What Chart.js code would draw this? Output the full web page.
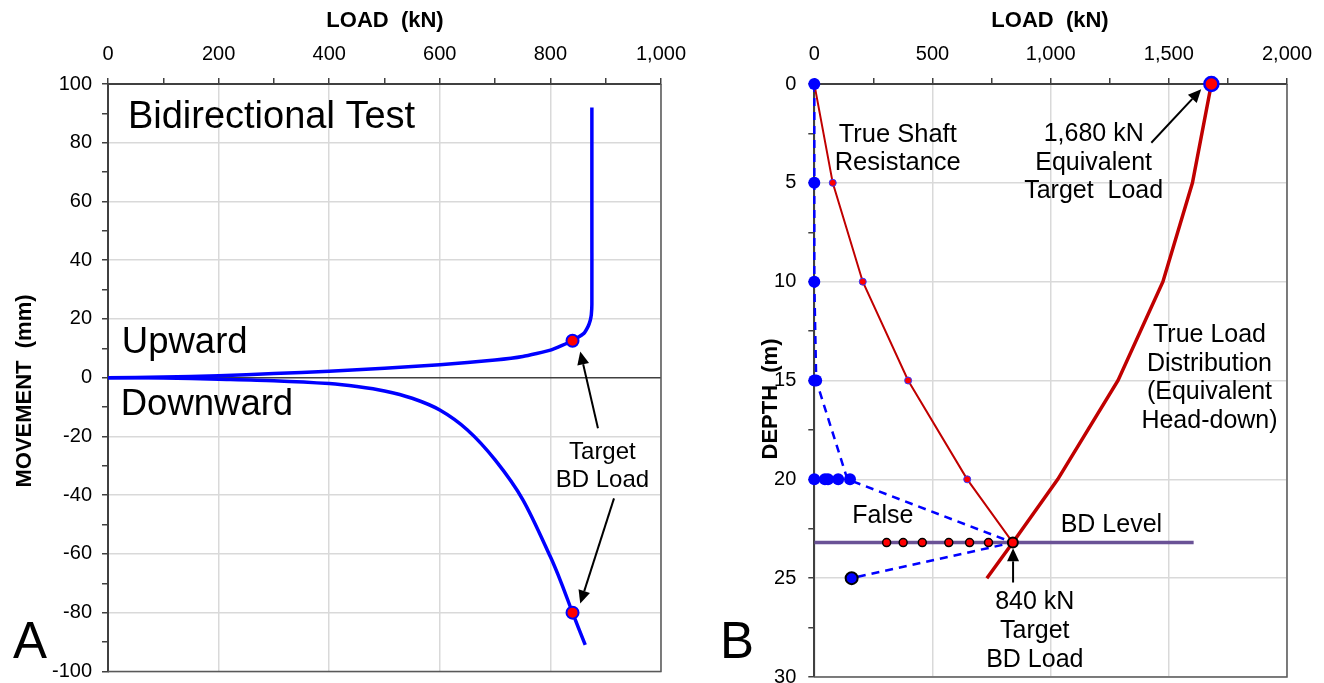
<!DOCTYPE html>
<html lang="en">
<head>
<meta charset="UTF-8">
<title>Bidirectional test - load movement and load distribution</title>
<script src="https://cdn.jsdelivr.net/npm/chart.js@4/dist/chart.umd.min.js"></script>
<style>
  body { margin: 0; background: #fff; width: 1324px; height: 683px; position: relative; overflow: hidden; font-family: "Liberation Sans", Arial, sans-serif; }
  canvas { position: absolute; top: 0; }
  #chartA { left: 0; }
  #chartB { left: 700px; }
  .lbl { position: absolute; white-space: pre; color: #000; }
  .ttl { font-weight: bold; font-size: 22px; line-height: 24px; height: 24px; width: 240px; text-align: center; }
  .rot { transform: rotate(-90deg); }
  .letter { font-size: 51px; line-height: 51px; }
</style>
</head>
<body>
<canvas id="chartA" width="700" height="683"></canvas>
<canvas id="chartB" width="624" height="683"></canvas>
<div class="lbl ttl" style="left:265px;top:8px">LOAD  (kN)</div>
<div class="lbl ttl" style="left:930px;top:8px">LOAD  (kN)</div>
<div class="lbl ttl rot" style="left:-96px;top:379px">MOVEMENT  (mm)</div>
<div class="lbl ttl rot" style="left:650px;top:387px">DEPTH  (m)</div>
<div class="lbl letter" style="left:13px;top:615px">A</div>
<div class="lbl letter" style="left:720px;top:615px">B</div>
<script>
// ---- panel A: bidirectional test, load vs movement ----
const upLoad = [0, 100, 200, 300, 400, 500, 600, 700, 750, 800, 840, 860, 868, 872, 874, 875, 875, 875];
const upMove = [0, 0.2, 0.7, 1.4, 2.2, 3.2, 4.4, 6.0, 7.2, 9.4, 12.6, 15.0, 17.4, 19.5, 21.5, 25, 60, 92];
const downLoad = [0, 100, 200, 300, 400, 450, 500, 550, 600, 650, 700, 750, 800, 820, 840, 863];
const downMove = [0, -0.1, -0.5, -1.0, -2.0, -3.0, -4.5, -7.0, -11, -17.8, -28, -41.5, -61, -70, -80, -91];
const targetLoadA = [840, 840];
const targetMoveA = [12.6, -80];

// ---- panel B: load distribution vs depth ----
const trueDepth = [0, 5, 10, 15, 20, 23.2, 25];
const trueLoad = [1680, 1600, 1475, 1285, 1030, 840, 730];
const shaftDepth = [0, 5, 10, 15, 20, 23.2];
const shaftLoad = [0, 78, 205, 397, 647, 840];
const falseDepth = [0, 5, 10, 15, 20, 23.2, 25];
const falseLoad = [0, 0, 0, 8, 140, 840, 158];
const blueDotDepth = [0, 5, 10, 15, 15, 20, 20, 20, 20, 20];
const blueDotLoad = [0, 0, 0, 0, 8, 0, 45, 58, 101, 151];
const toeDepth = [25];
const toeLoad = [158];
const bdDepth = 23.2;
const bdLineLoad = [0, 1605];
const bdDotLoad = [306, 376, 457, 569, 657, 737];
const targetLoadB = [840];
const headLoad = [1680];

// tick label sets
const xTicksA = [0, 200, 400, 600, 800, 1000];
const yTicksA = [-100, -80, -60, -40, -20, 0, 20, 40, 60, 80, 100];
const xTicksB = [0, 500, 1000, 1500, 2000];
const yTicksB = [0, 5, 10, 15, 20, 25, 30];

const notesA = [
  { text: 'Bidirectional Test', x: 36, y: 85.1, size: 38, align: 'left' },
  { text: 'Upward', x: 25, y: 8.4, size: 36.5, align: 'left' },
  { text: 'Downward', x: 23, y: -12.7, size: 36.5, align: 'left' },
  { text: 'Target', x: 894, y: -27.7, size: 24 },
  { text: 'BD Load', x: 894, y: -37.1, size: 24 }
];
const arrowsA = [
  { x1: 886, y1: -17.2, x2: 854, y2: 8.9 },
  { x1: 915, y1: -41.1, x2: 854, y2: -76.9 }
];
const notesB = [
  { text: 'True Shaft', x: 353, y: 2.92, size: 25.5 },
  { text: 'Resistance', x: 353, y: 4.35, size: 25.5 },
  { text: '1,680 kN', x: 1182, y: 2.88, size: 25 },
  { text: 'Equivalent', x: 1182, y: 4.35, size: 25 },
  { text: 'Target  Load', x: 1182, y: 5.78, size: 25 },
  { text: 'True Load', x: 1672, y: 13.03, size: 25 },
  { text: 'Distribution', x: 1672, y: 14.5, size: 25 },
  { text: '(Equivalent', x: 1672, y: 15.95, size: 25 },
  { text: 'Head-down)', x: 1672, y: 17.4, size: 25 },
  { text: 'BD Level', x: 1257, y: 22.68, size: 25 },
  { text: 'False', x: 290, y: 22.22, size: 25 },
  { text: '840 kN', x: 933, y: 26.57, size: 25 },
  { text: 'Target', x: 933, y: 28.04, size: 25 },
  { text: 'BD Load', x: 933, y: 29.47, size: 25 }
];
const arrowsB = [
  { x1: 1426, y1: 2.97, x2: 1637, y2: 0.27 },
  { x1: 841, y1: 25.22, x2: 841, y2: 23.49 }
];

const FONT = '"Liberation Sans", Arial, sans-serif';
Chart.defaults.font.family = FONT;
Chart.defaults.color = '#000';

const zip = (xs, ys) => xs.map((v, i) => ({ x: v, y: ys[i] }));
const flat = (xs, y) => xs.map((v) => ({ x: v, y: y }));
const near = (v, list) => list.some((t) => Math.abs(t - v) < 1e-6);

function fixBox(size) {
  return (scale) => {
    if (scale.isHorizontal()) scale.height = size;
    else scale.width = size;
    scale.paddingLeft = scale.paddingRight = scale.paddingTop = scale.paddingBottom = 0;
  };
}

function makeAxis(opts) {
  return {
    type: 'linear',
    position: opts.position,
    min: opts.min,
    max: opts.max,
    reverse: !!opts.reverse,
    afterFit: fixBox(opts.box),
    border: { display: true, color: '#404040', width: 2 },
    grid: {
      lineWidth: 1.5,
      color: (c) => {
        if (!c.tick) return 'rgba(0,0,0,0)';
        if (opts.zeroDark && c.tick.value === 0) return '#404040';
        return near(c.tick.value, opts.labels) ? '#d9d9d9' : 'rgba(0,0,0,0)';
      },
      tickColor: '#404040',
      tickLength: 6
    },
    ticks: {
      stepSize: opts.step,
      autoSkip: false,
      maxRotation: 0,
      padding: opts.pad,
      font: { size: 20 },
      callback: (v) => (near(v, opts.labels) ? v.toLocaleString('en-US') : '')
    }
  };
}

function notesPlugin(texts, arrows) {
  return {
    id: 'notes',
    beforeDatasetsDraw(chart) {
      const { ctx, chartArea: a } = chart;
      ctx.save();
      ctx.strokeStyle = '#595959';
      ctx.lineWidth = 1.5;
      ctx.beginPath();
      ctx.moveTo(a.right, a.top);
      ctx.lineTo(a.right, a.bottom);
      ctx.lineTo(a.left, a.bottom);
      ctx.stroke();
      ctx.restore();
    },
    afterDatasetsDraw(chart) {
      const { ctx, scales: { x, y } } = chart;
      ctx.save();
      ctx.fillStyle = '#000';
      ctx.textBaseline = 'alphabetic';
      texts.forEach((t) => {
        ctx.font = t.size + 'px ' + FONT;
        ctx.textAlign = t.align || 'center';
        ctx.fillText(t.text, x.getPixelForValue(t.x), y.getPixelForValue(t.y));
      });
      ctx.strokeStyle = '#000';
      ctx.lineWidth = 2;
      arrows.forEach((r) => {
        const x1 = x.getPixelForValue(r.x1), y1 = y.getPixelForValue(r.y1);
        const x2 = x.getPixelForValue(r.x2), y2 = y.getPixelForValue(r.y2);
        const ang = Math.atan2(y2 - y1, x2 - x1);
        const hl = 13, hw = 6;
        const bx = x2 - hl * Math.cos(ang), by = y2 - hl * Math.sin(ang);
        ctx.beginPath();
        ctx.moveTo(x1, y1);
        ctx.lineTo(bx, by);
        ctx.stroke();
        ctx.beginPath();
        ctx.moveTo(x2, y2);
        ctx.lineTo(bx + hw * Math.sin(ang), by - hw * Math.cos(ang));
        ctx.lineTo(bx - hw * Math.sin(ang), by + hw * Math.cos(ang));
        ctx.closePath();
        ctx.fill();
      });
      ctx.restore();
    }
  };
}

const common = {
  responsive: false,
  animation: false,
  devicePixelRatio: 1,
  events: [],
  plugins: { legend: { display: false }, tooltip: { enabled: false } }
};

new Chart(document.getElementById('chartA'), {
  type: 'scatter',
  data: {
    datasets: [
      { data: zip(targetLoadA, targetMoveA), pointRadius: 6, pointBackgroundColor: '#ff0000', pointBorderColor: '#0000ff', pointBorderWidth: 2, clip: false, order: 0 },
      { data: zip(upLoad, upMove), showLine: true, borderColor: '#0000ff', borderWidth: 3.5, pointRadius: 0, tension: 0.15, order: 1 },
      { data: zip(downLoad, downMove), showLine: true, borderColor: '#0000ff', borderWidth: 3.5, pointRadius: 0, tension: 0.3, order: 2 }
    ]
  },
  options: {
    ...common,
    layout: { autoPadding: false, padding: { left: 0, top: 0, right: 39, bottom: 11.6 } },
    scales: {
      x: makeAxis({ position: 'top', min: 0, max: 1000, step: 100, labels: xTicksA, box: 84, pad: 12 }),
      y: makeAxis({ position: 'left', min: -100, max: 100, step: 10, labels: yTicksA, box: 108, pad: 10, zeroDark: true })
    }
  },
  plugins: [notesPlugin(notesA, arrowsA)]
});

new Chart(document.getElementById('chartB'), {
  type: 'scatter',
  data: {
    datasets: [
      { data: zip(headLoad, [0]), pointRadius: 7, pointBackgroundColor: '#ff0000', pointBorderColor: '#0000ff', pointBorderWidth: 2.5, clip: false, order: 0 },
      { data: flat(targetLoadB, bdDepth), pointRadius: 5, pointBackgroundColor: '#ff0000', pointBorderColor: '#000', pointBorderWidth: 2, clip: false, order: 1 },
      { data: zip(shaftLoad.slice(1, 5), shaftDepth.slice(1, 5)), pointRadius: 3.5, pointBackgroundColor: '#ff0000', pointBorderColor: '#3333ff', pointBorderWidth: 1, order: 2 },
      { data: flat(bdDotLoad, bdDepth), pointRadius: 4, pointBackgroundColor: '#ff0000', pointBorderColor: '#000', pointBorderWidth: 1.5, order: 3 },
      { data: zip(toeLoad, toeDepth), pointRadius: 6, pointBackgroundColor: '#0000ff', pointBorderColor: '#000', pointBorderWidth: 2, order: 4 },
      { data: zip(blueDotLoad, blueDotDepth), pointRadius: 6, pointBackgroundColor: '#0000ff', pointBorderColor: '#0000ff', pointBorderWidth: 0, clip: false, order: 5 },
      { data: zip(trueLoad, trueDepth), showLine: true, borderColor: '#c00000', borderWidth: 3.5, pointRadius: 0, order: 6 },
      { data: zip(shaftLoad, shaftDepth), showLine: true, borderColor: '#c00000', borderWidth: 2, pointRadius: 0, order: 7 },
      { data: zip(falseLoad, falseDepth), showLine: true, borderColor: '#0000ff', borderWidth: 2.5, borderDash: [8, 6], pointRadius: 0, clip: false, order: 8 },
      { data: flat(bdLineLoad, bdDepth), showLine: true, borderColor: '#6a5296', borderWidth: 3.5, pointRadius: 0, order: 9 }
    ]
  },
  options: {
    ...common,
    layout: { autoPadding: false, padding: { left: 0, top: 0, right: 37, bottom: 6 } },
    scales: {
      x: makeAxis({ position: 'top', min: 0, max: 2000, step: 250, labels: xTicksB, box: 84, pad: 12 }),
      y: makeAxis({ position: 'left', min: 0, max: 30, step: 2.5, labels: yTicksB, box: 114.3, pad: 12, reverse: true })
    }
  },
  plugins: [notesPlugin(notesB, arrowsB)]
});
</script>
</body>
</html>
